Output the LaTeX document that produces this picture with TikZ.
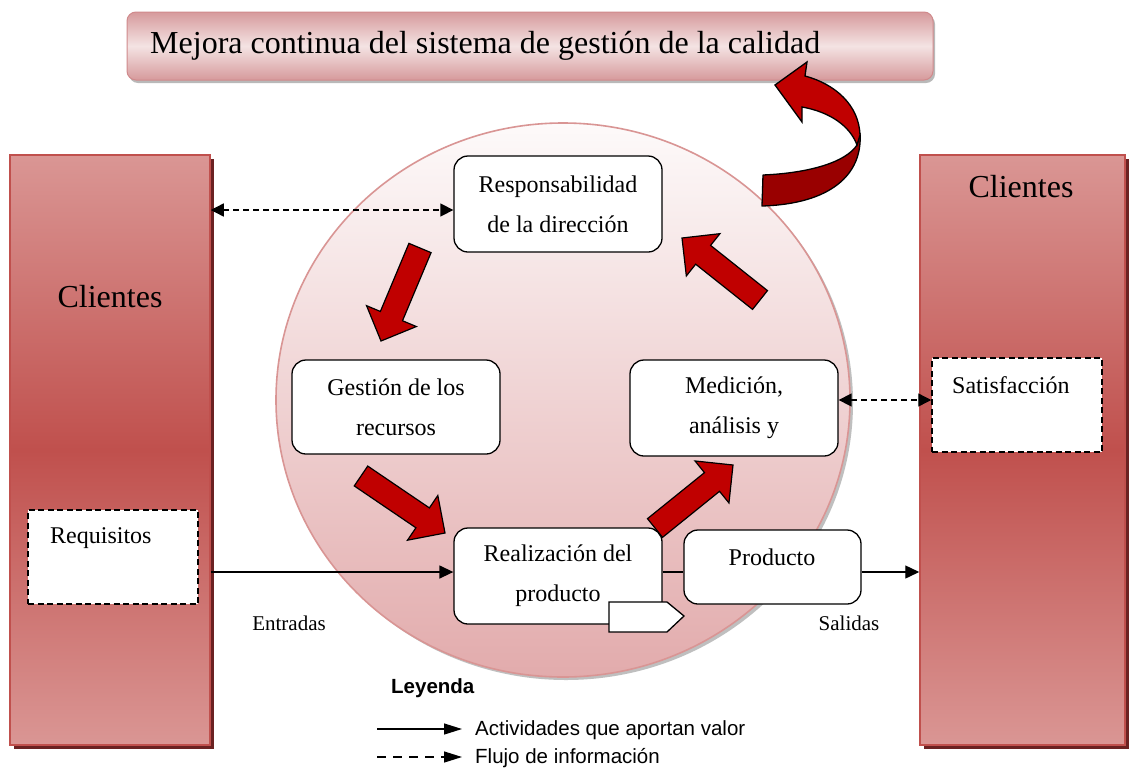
\documentclass[tikz,border=0pt]{standalone}
\usepackage{fontspec}
\setmainfont{Liberation Serif}
\newfontfamily\legendfont{Liberation Sans}
\usetikzlibrary{arrows.meta,calc,shapes.geometric}
\definecolor{cliMid}{HTML}{C0504D}
\definecolor{cliLight}{HTML}{DA9694}
\definecolor{cliShadow}{HTML}{6B2222}
\definecolor{titleEdge}{HTML}{D69A9C}
\definecolor{titleMid}{HTML}{F4E3E3}
\definecolor{titleLine}{HTML}{D08A8C}
\definecolor{circTop}{HTML}{FDFAFA}
\definecolor{circBot}{HTML}{E2ABAC}
\definecolor{circLine}{HTML}{D99594}
\definecolor{arrowRed}{HTML}{C00000}
\definecolor{arrowDark}{HTML}{990000}
\newcommand{\blockarrow}[3]{%
  \coordinate (#1t) at #2;
  \coordinate (#1h) at #3;
  \coordinate (#1n) at ($(#1h)!27pt!(#1t)$);
  \draw[redarrow] ($(#1t)!12pt!90:(#1h)$) -- ($(#1n)!12pt!90:(#1h)$)
    -- ($(#1n)!27pt!90:(#1h)$) -- (#1h) -- ($(#1n)!27pt!-90:(#1h)$)
    -- ($(#1n)!12pt!-90:(#1h)$) -- ($(#1t)!12pt!-90:(#1h)$) -- cycle;
}
\begin{document}
\begin{tikzpicture}[x=1pt,y=-1pt,
  cli/.style={draw=cliMid, line width=1.5pt, top color=cliLight, bottom color=cliLight, middle color=cliMid, inner sep=0pt},
  titlebox/.style={draw=titleLine, line width=1pt, rounded corners=9pt, top color=titleEdge, bottom color=titleEdge, middle color=titleMid, inner sep=0pt},
  pbox/.style={draw, line width=1.3pt, rounded corners=14pt, fill=white, minimum width=208pt, minimum height=96pt, align=center, font=\fontsize{24}{40}\selectfont, inner sep=0pt},
  dbox/.style={draw, dashed, dash pattern=on 6pt off 3.5pt, line width=1.5pt, fill=white, inner sep=0pt},
  redarrow/.style={draw=black, line width=1.2pt, fill=arrowRed, line join=miter},
  conn/.style={line width=1.4pt, -{Triangle[length=14pt,width=13pt]}},
  info/.style={line width=1.4pt, dash pattern=on 6pt off 4pt, {Triangle[length=13pt,width=13pt]}-{Triangle[length=13pt,width=13pt]}},
  lbl/.style={font=\fontsize{21}{24}\selectfont, anchor=base},
  boxlbl/.style={font=\fontsize{24}{26}\selectfont, inner sep=0pt},
  legtext/.style={anchor=base west, font=\legendfont\fontsize{20.5}{24}\selectfont, inner sep=0pt},
  legarrow/.style={line width=1.3pt, -{Triangle[length=18pt,width=11pt]}},
]
\useasboundingbox (0,0) rectangle (1130,769);
\fill[white] (0,0) rectangle (1130,769);

% title bar
\fill[gray!55, rounded corners=9pt] (129,15) rectangle (935,83);
\node[titlebox, minimum width=806pt, minimum height=68pt] (title) at (530,46) {};
\node[anchor=base west, font=\fontsize{32}{36}\selectfont, inner sep=0pt] (titletext) at (150,53) {Mejora continua del sistema de gesti\'on de la calidad};

% customers
\fill[cliShadow] (14,159) rectangle (214,749);
\node[cli, minimum width=200pt, minimum height=590pt] (cliL) at (110,450) {};
\node[anchor=base, font=\fontsize{32}{36}\selectfont, inner sep=0pt] (cliLtext) at (110,307) {Clientes};
\fill[cliShadow] (924,159) rectangle (1129,749);
\node[cli, minimum width=205pt, minimum height=590pt] (cliR) at (1022.5,450) {};
\node[anchor=base, font=\fontsize{32}{36}\selectfont, inner sep=0pt] (cliRtext) at (1021,197) {Clientes};

% requirement / satisfaction boxes
\node[dbox, minimum width=170pt, minimum height=94pt] (req) at (113,557) {};
\node[boxlbl, anchor=base west] (reqtext) at (50,543) {Requisitos};
\node[dbox, minimum width=170pt, minimum height=94pt] (sat) at (1017,405) {};
\node[boxlbl, anchor=base west] (sattext) at (952,393) {Satisfacci\'on};

% process circle
\fill[gray!50] (566,403) ellipse (287pt and 277pt);
\node[ellipse, draw=circLine, line width=1.6pt, top color=circTop, bottom color=circBot, minimum width=574pt, minimum height=554pt, inner sep=0pt] (circ) at (563,400) {};

% process boxes
\node[pbox] (resp) at (558,204) {Responsabilidad\\de la direcci\'on};
\node[pbox, minimum height=94pt] (gest) at (396,407) {Gesti\'on de los\\recursos};
\node[pbox] (med) at (734,408) {Medici\'on,\\an\'alisis y};
\node[pbox] (real) at (558,576) {Realizaci\'on del\\producto};
\node[pbox, minimum width=177pt, minimum height=74pt] (prod) at (772.5,567) {};
\node[boxlbl, anchor=base] (prodtext) at (772,565) {Producto};
\draw[line width=1.3pt, fill=white] (609,602) -- (667,602) -- (684,616) -- (667,632) -- (609,632) -- cycle;

% red cycle arrows
\blockarrow{ra}{(420,248)}{(381,341)}
\blockarrow{rb}{(361,476)}{(445,533)}
\blockarrow{rc}{(655,528)}{(733,465)}
\blockarrow{rd}{(760,300)}{(682,238)}

% curved improvement arrow
\draw[line width=1.3pt, fill=arrowDark, line join=round]
  (860,133) .. controls (863,175) and (830,204) .. (762,206)
  -- (763,175) .. controls (810,173) and (846,162) .. (857,145) -- cycle;
\draw[line width=1.3pt, fill=arrowRed, line join=miter]
  (805,76) .. controls (835,84) and (859,105) .. (860,135)
  -- (857,145) .. controls (850,126) and (830,112) .. (802,107)
  -- (802,122) -- (775,85) -- (807,62) -- cycle;

% connectors
\draw[info] (cliL.east |- 0,210) -- (resp.west |- 0,210);
\draw[info] (med.east |- 0,400) -- (sat.west |- 0,400);
\draw[conn] (cliL.east |- 0,572) -- (real.west |- 0,572);
\draw[line width=1.4pt] (real.east |- 0,572) -- (prod.west |- 0,572);
\draw[conn] (prod.east |- 0,572) -- (cliR.west |- 0,572);
\node[lbl] (entr) at (289,630) {Entradas};
\node[lbl] (sal) at (849,630) {Salidas};

% legend
\node[anchor=base west, font=\legendfont\bfseries\fontsize{20.5}{24}\selectfont, inner sep=0pt] (leg) at (391,693) {Leyenda};
\coordinate (l1a) at (377,729);
\coordinate (l1b) at (462,729);
\coordinate (l2a) at (377,757);
\coordinate (l2b) at (462,757);
\draw[legarrow] (l1a) -- (l1b);
\draw[legarrow, dash pattern=on 9pt off 7pt] (l2a) -- (l2b);
\node[legtext] (leg1) at (475,735) {Actividades que aportan valor};
\node[legtext] (leg2) at (475,763) {Flujo de informaci\'on};
\end{tikzpicture}
\end{document}
